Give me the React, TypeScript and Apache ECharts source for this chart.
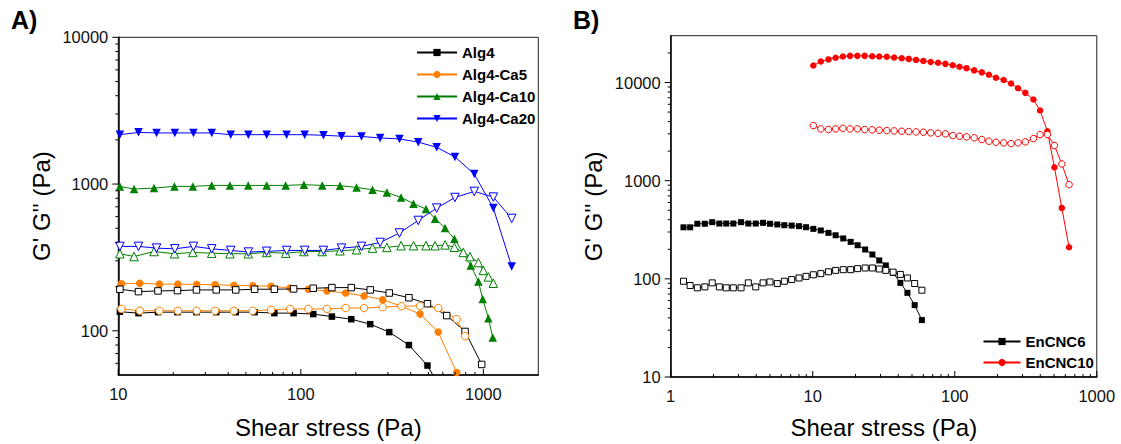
import React, { useEffect, useRef } from 'react';
import * as echarts from 'echarts';

// ---------- Panel A: alginate gels (shear stress Pa, modulus Pa) ----------
const alg4X = [10.2, 12.9, 16.5, 21.1, 26.8, 34.4, 44.0, 55.8, 71.6, 91.3, 117, 148, 189, 240, 305, 391, 494, 631];
const alg4G1 = [135, 132, 134, 134, 134, 134, 134, 134, 132, 132, 130, 125, 120, 111, 98, 80, 58, 34];
const alg4X2 = [10.2, 12.9, 16.5, 21.1, 26.8, 34.4, 44.0, 55.8, 71.6, 91.3, 117, 148, 189, 240, 305, 391, 494, 630, 794, 979];
const alg4G2 = [192, 185, 187, 188, 190, 190, 190, 192, 192, 193, 195, 197, 197, 190, 181, 168, 153, 127, 99, 59];

const ca5X = [10.4, 13.1, 16.8, 21.2, 26.9, 33.9, 43.0, 54.5, 68.7, 87.3, 110, 139, 176, 222, 281, 356, 450, 566, 714];
const ca5G1 = [209, 211, 208, 208, 207, 206, 204, 203, 201, 196, 192, 187, 181, 173, 163, 147, 130, 98, 52];
const ca5X2 = [10.4, 13.1, 16.8, 21.2, 26.9, 33.9, 43.0, 54.5, 68.7, 87.3, 110, 139, 176, 222, 281, 356, 450, 566, 714, 794];
const ca5G2 = [141, 137, 137, 137, 137, 137, 137, 137, 139, 141, 141, 141, 143, 143, 145, 147, 148, 143, 120, 92];

const ca10X = [10.2, 12.2, 15.7, 20.3, 25.6, 32.5, 40.9, 51.5, 65.0, 82.6, 104, 131, 164, 202, 247, 296, 354, 414, 485, 544, 617, 694, 853, 939, 992, 1065, 1126];
const ca10G1 = [964, 925, 939, 964, 964, 979, 979, 979, 979, 979, 990, 979, 975, 948, 915, 877, 811, 735, 676, 580, 501, 424, 279, 217, 165, 122, 90];
const ca10X2 = [10.2, 12.2, 15.7, 20.3, 25.6, 32.5, 40.9, 51.5, 65.0, 82.6, 104, 131, 164, 202, 247, 296, 354, 414, 485, 544, 617, 694, 776, 845, 939, 1000, 1065, 1134];
const ca10G2 = [335, 321, 347, 335, 342, 338, 335, 335, 342, 338, 347, 347, 351, 357, 366, 370, 380, 380, 380, 380, 385, 371, 342, 320, 292, 258, 233, 211];

const ca20X = [10.2, 12.9, 16.2, 20.4, 25.8, 32.5, 41.3, 51.6, 65, 83.6, 105, 133, 167, 215, 272, 347, 440, 555, 699, 892, 1134, 1430];
const ca20G1 = [2170, 2250, 2230, 2230, 2230, 2230, 2170, 2170, 2170, 2170, 2170, 2150, 2120, 2110, 2060, 2030, 1930, 1780, 1530, 1170, 686, 274];
const ca20G2 = [376, 376, 366, 362, 376, 362, 353, 344, 348, 353, 353, 353, 366, 376, 400, 464, 565, 686, 810, 891, 815, 583];

// ---------- Panel B: EnCNC gels ----------
const cnc6X = [1.23, 1.37, 1.54, 1.74, 1.96, 2.20, 2.46, 2.76, 3.13, 3.52, 3.97, 4.47, 5.00, 5.63, 6.31, 7.11, 8.01, 8.97, 10.1, 11.4, 12.9, 14.5, 16.4, 18.5, 20.7, 23.4, 26.3, 29.4, 32.7, 36.8, 41.4, 46.4, 52.2, 58.7];
const cnc6G1 = [335, 335, 364, 364, 378, 366, 366, 366, 378, 366, 366, 372, 364, 358, 352, 349, 344, 336, 323, 311, 294, 278, 258, 238, 220, 199, 177, 154, 137, 115, 91, 72, 54, 38];
const cnc6G2 = [94.5, 85.5, 81, 82.8, 91, 82.8, 81, 81, 81, 91, 82.8, 91, 93, 89.5, 94.5, 98.4, 102, 106, 110, 113, 118, 122, 124, 124, 127, 129, 129, 126, 122, 117, 111, 102, 89.6, 76.6];

const cnc10X = [10.1, 11.4, 12.9, 14.5, 16.3, 18.3, 20.6, 23.2, 26.2, 29.4, 33.2, 37.4, 42.3, 47.4, 53.4, 60.1, 67.7, 76.3, 85.9, 96.8, 108, 121, 137, 155, 174, 195, 221, 249, 279, 314, 358, 399, 449, 503, 567, 638];
const cnc10G1 = [14900, 16400, 17200, 17900, 18400, 18700, 18700, 18700, 18500, 18400, 18300, 18000, 17700, 17400, 17000, 16600, 16200, 15900, 15500, 15000, 14500, 14000, 13300, 12700, 12000, 11200, 10600, 9770, 8750, 7850, 6710, 5190, 3190, 1370, 528, 210];
const cnc10G2 = [3645, 3370, 3320, 3370, 3420, 3370, 3370, 3320, 3300, 3265, 3240, 3217, 3190, 3165, 3140, 3115, 3070, 3040, 3000, 2880, 2840, 2795, 2730, 2625, 2525, 2463, 2427, 2388, 2427, 2486, 2685, 2950, 2950, 2280, 1482, 912];

// ---------- axes ----------
const legendA = ['Alg4', 'Alg4-Ca5', 'Alg4-Ca10', 'Alg4-Ca20'];
const legendB = ['EnCNC6', 'EnCNC10'];
const xRangeA = [10, 2000];
const yRangeA = [50, 10000];
const xRangeB = [1, 1000];
const yRangeB = [10, 30000];
const xTitle = 'Shear stress (Pa)';
const yTitle = "G' G'' (Pa)";

const FONT = '"Liberation Sans", Arial, Helvetica, sans-serif';

const pairs = (xs: number[], ys: number[]) => xs.map((x, i) => [x, ys[i]]);

const isPow10 = (v: number) => {
  const l = Math.log10(v);
  return Math.abs(l - Math.round(l)) < 1e-6;
};

function tickValues(lo: number, hi: number) {
  const major: number[] = [];
  const minor: number[] = [];
  for (let e = Math.floor(Math.log10(lo)); e <= Math.ceil(Math.log10(hi)); e++) {
    const base = Math.pow(10, e);
    for (let m = 1; m <= 9; m++) {
      const v = m * base;
      if (v < lo * 1.0001 && !(m === 1 && Math.abs(v - lo) < 1e-9)) continue;
      if (v > hi * 0.9999 && !(m === 1 && Math.abs(v - hi) < 1e-9)) continue;
      if (m === 1) major.push(v);
      else minor.push(v);
    }
  }
  return { major, minor };
}

function lineSeries(
  name: string, xs: number[], ys: number[], color: string, symbol: string,
  filled: boolean, size: number, gi: number, rotate = 0
) {
  return {
    type: 'line',
    name,
    xAxisIndex: gi,
    yAxisIndex: gi,
    data: pairs(xs, ys),
    symbol,
    symbolSize: size,
    symbolRotate: rotate,
    showAllSymbol: true,
    clip: true,
    lineStyle: { color, width: 1 },
    itemStyle: filled
      ? { color, borderColor: color, borderWidth: 0 }
      : { color: '#ffffff', borderColor: color, borderWidth: 1 },
    emphasis: { disabled: true },
    z: filled ? 3 : 4,
  };
}

function tickSeries(gi: number, axis: 'x' | 'y', values: number[], len: number, ref: number) {
  return {
    type: 'custom',
    xAxisIndex: gi,
    yAxisIndex: gi,
    silent: true,
    clip: false,
    z: 10,
    data: values.map((v) => (axis === 'x' ? [v, ref] : [ref, v])),
    renderItem: (params: any, api: any) => {
      const cs = params.coordSys;
      const p = api.coord([api.value(0), api.value(1)]);
      if (axis === 'x') {
        const yb = cs.y + cs.height;
        return {
          type: 'line',
          shape: { x1: p[0], y1: yb, x2: p[0], y2: yb - len },
          style: { stroke: '#000', lineWidth: 1 },
        };
      }
      return {
        type: 'line',
        shape: { x1: cs.x, y1: p[1], x2: cs.x - len, y2: p[1] },
        style: { stroke: '#000', lineWidth: 1 },
      };
    },
  };
}

function axisCommon(name: string, gap: number, min: number, max: number, gi: number) {
  return {
    type: 'log',
    logBase: 10,
    gridIndex: gi,
    min,
    max,
    name,
    nameLocation: 'middle',
    nameGap: gap,
    nameTextStyle: { fontSize: 24, color: '#000', fontFamily: FONT },
    axisLine: { show: true, lineStyle: { color: '#000', width: 1.5 } },
    axisTick: { show: false },
    minorTick: { show: false },
    splitLine: { show: false },
    axisLabel: {
      fontSize: 16.5,
      color: '#111',
      fontFamily: FONT,
      margin: 10,
      showMinLabel: true,
      showMaxLabel: true,
      formatter: (v: number) => (isPow10(v) ? String(Math.round(v)) : ''),
    },
  };
}

export default function App() {
  const ref = useRef<HTMLDivElement>(null);

  useEffect(() => {
    if (!ref.current) return;
    const chart = echarts.init(ref.current, undefined, { renderer: 'svg' });

    const tXA = tickValues(xRangeA[0], xRangeA[1]);
    const tYA = tickValues(yRangeA[0], yRangeA[1]);
    const tXB = tickValues(xRangeB[0], xRangeB[1]);
    const tYB = tickValues(yRangeB[0], yRangeB[1]);

    const option: any = {
      animation: false,
      backgroundColor: '#ffffff',
      textStyle: { fontFamily: FONT },
      title: [
        { text: 'A)', left: 6, top: 2, textStyle: { fontSize: 25, fontWeight: 'bold', color: '#000', fontFamily: FONT } },
        { text: 'B)', left: 568, top: 2, textStyle: { fontSize: 25, fontWeight: 'bold', color: '#000', fontFamily: FONT } },
      ],
      grid: [
        { left: 118.3, top: 37.3, width: 420, height: 337.7, show: true, borderColor: '#222', borderWidth: 1, backgroundColor: 'transparent' },
        { left: 670.7, top: 35.7, width: 426.1, height: 341.6, show: true, borderColor: '#222', borderWidth: 1, backgroundColor: 'transparent' },
      ],
      xAxis: [
        axisCommon(xTitle, 40, xRangeA[0], xRangeA[1], 0),
        axisCommon(xTitle, 38, xRangeB[0], xRangeB[1], 1),
      ],
      yAxis: [
        axisCommon(yTitle, 65, yRangeA[0], yRangeA[1], 0),
        axisCommon(yTitle, 65, yRangeB[0], yRangeB[1], 1),
      ],
      legend: [
        {
          data: legendA, orient: 'vertical', left: 411, top: 40,
          itemWidth: 40, itemHeight: 9, itemGap: 7, selectedMode: false,
          textStyle: { fontSize: 15, fontWeight: 'bold', color: '#000', fontFamily: FONT },
        },
        {
          data: legendB, orient: 'vertical', left: 977.5, top: 329,
          itemWidth: 37, itemHeight: 9, itemGap: 6, selectedMode: false,
          textStyle: { fontSize: 15, fontWeight: 'bold', color: '#000', fontFamily: FONT },
        },
      ],
      series: [
        lineSeries('Alg4', alg4X, alg4G1, '#000000', 'rect', true, 6.5, 0),
        lineSeries('Alg4-Ca5', ca5X, ca5G1, '#FF8000', 'circle', true, 7.5, 0),
        lineSeries('Alg4-Ca10', ca10X, ca10G1, '#008000', 'triangle', true, 8.5, 0),
        lineSeries('Alg4-Ca20', ca20X, ca20G1, '#0000FF', 'triangle', true, 8.5, 0, 180),
        lineSeries("Alg4 G''", alg4X2, alg4G2, '#000000', 'rect', false, 6.5, 0),
        lineSeries("Alg4-Ca5 G''", ca5X2, ca5G2, '#FF8000', 'circle', false, 7.5, 0),
        lineSeries("Alg4-Ca10 G''", ca10X2, ca10G2, '#008000', 'triangle', false, 8.5, 0),
        lineSeries("Alg4-Ca20 G''", ca20X, ca20G2, '#0000FF', 'triangle', false, 8.5, 0, 180),
        lineSeries('EnCNC6', cnc6X, cnc6G1, '#000000', 'rect', true, 6, 1),
        lineSeries('EnCNC10', cnc10X, cnc10G1, '#FF0000', 'circle', true, 6.5, 1),
        lineSeries("EnCNC6 G''", cnc6X, cnc6G2, '#000000', 'rect', false, 6, 1),
        lineSeries("EnCNC10 G''", cnc10X, cnc10G2, '#FF0000', 'circle', false, 6.5, 1),
        tickSeries(0, 'x', tXA.major, 6, 100),
        tickSeries(0, 'x', tXA.minor, 3, 100),
        tickSeries(0, 'y', tYA.major, 6, 100),
        tickSeries(0, 'y', tYA.minor, 3, 100),
        tickSeries(1, 'x', tXB.major, 6, 100),
        tickSeries(1, 'x', tXB.minor, 3, 100),
        tickSeries(1, 'y', tYB.major, 6, 10),
        tickSeries(1, 'y', tYB.minor, 3, 10),
      ],
    };

    chart.setOption(option);
    return () => {
      chart.dispose();
    };
  }, []);

  return (
    <div
      ref={ref}
      style={{ position: 'fixed', left: 0, top: 0, width: 1121, height: 444, background: '#fff' }}
    />
  );
}
